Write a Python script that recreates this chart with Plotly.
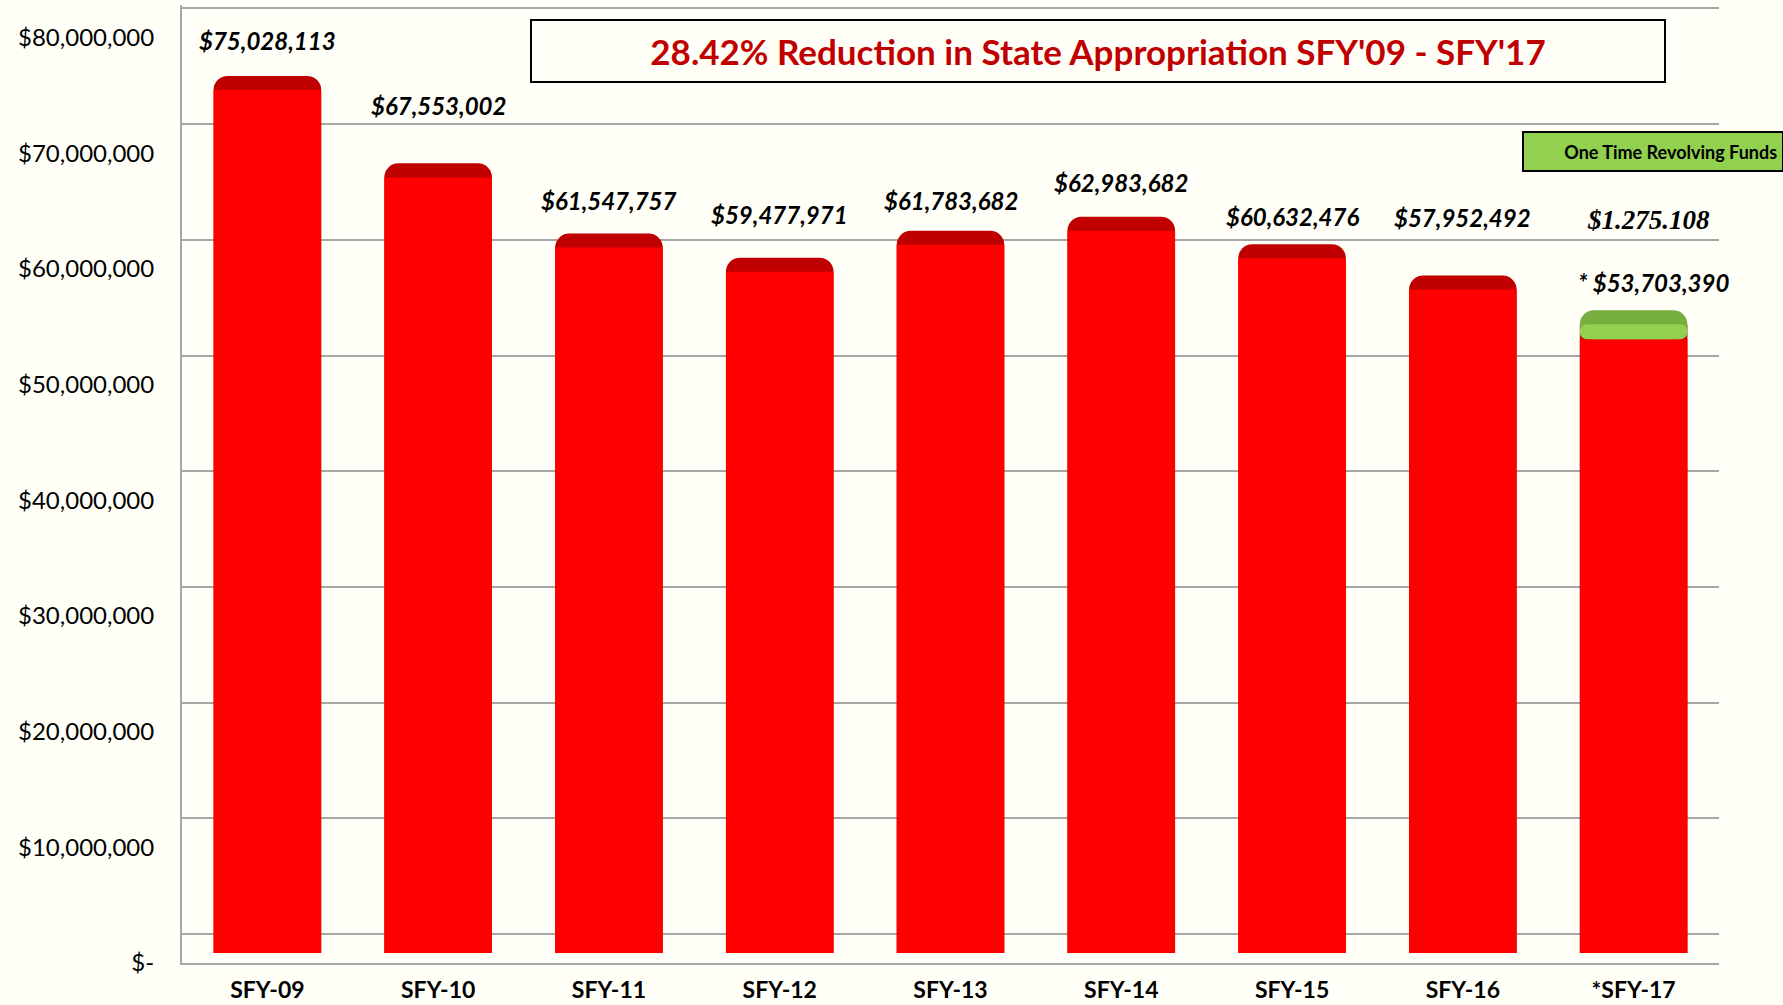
import plotly.graph_objects as go

# data
categories = ["SFY-09", "SFY-10", "SFY-11", "SFY-12", "SFY-13",
              "SFY-14", "SFY-15", "SFY-16", "*SFY-17"]
appropriation = [75028113, 67553002, 61547757, 59477971, 61783682,
                 62983682, 60632476, 57952492, 53703390]
one_time_category = "*SFY-17"
one_time_value = 1275108
y_tickvals = [0, 10000000, 20000000, 30000000, 40000000,
              50000000, 60000000, 70000000, 80000000]
y_ticktext = ["$-", "$10,000,000", "$20,000,000", "$30,000,000", "$40,000,000",
              "$50,000,000", "$60,000,000", "$70,000,000", "$80,000,000"]
title_text = "28.42% Reduction in State Appropriation SFY'09 - SFY'17"
legend_name = "One Time Revolving Funds"

# styling
BG = "#FFFFF7"
RED = "#FF0000"
DARK_RED = "#C00000"
GREEN = "#92D050"
DARK_GREEN = "#77AF3E"
GRID = "#A6A6A6"
CAP = 1.2e6          # depth of the darker top face (3D look), in axis units
label_lift = [35, 58, 33, 43, 30, 34, 28, 58, 28]

fig = go.Figure()

# keeps the gridline/label axis alive (draws nothing)
fig.add_trace(go.Scatter(x=categories, y=appropriation, mode="none",
                         showlegend=False, hoverinfo="skip"))

bar_common = dict(yaxis="y2", marker_cornerradius=14, marker_line_width=0,
                  hoverinfo="skip", showlegend=False)

# top face (dark) then front face (bright) for each bar
fig.add_trace(go.Bar(x=categories, y=appropriation, marker_color=DARK_RED, **bar_common))
fig.add_trace(go.Bar(x=categories, y=[v - CAP for v in appropriation],
                     marker_color=RED, **bar_common))

base17 = appropriation[categories.index(one_time_category)]
fig.add_trace(go.Bar(x=[one_time_category], y=[one_time_value + CAP], base=[base17 - CAP],
                     marker_color=DARK_GREEN, **bar_common))
fig.add_trace(go.Bar(x=[one_time_category], y=[one_time_value], base=[base17 - CAP],
                     marker_color=GREEN, name=legend_name,
                     **dict(bar_common, showlegend=True)))

label_font = dict(family="Lato", size=24, color="black", weight="bold", style="italic")
for i, (cat, val) in enumerate(zip(categories, appropriation)):
    top = val
    text = f"${val:,}"
    xshift = 0
    if cat == one_time_category:
        top = val + one_time_value
        text = "* " + text
        xshift = 20
    fig.add_annotation(x=cat, y=top, xref="x", yref="y2", text=text, showarrow=False,
                       yshift=label_lift[i], xshift=xshift, font=label_font)

# label for the one-time funds
fig.add_annotation(x=one_time_category, y=base17 + one_time_value, xref="x", yref="y2",
                   text=f"${one_time_value:,}".replace(",", "."), showarrow=False,
                   yshift=90, xshift=15,
                   font=dict(family="Liberation Serif", size=27, color="black",
                             weight="bold", style="italic"))

# title box
fig.add_annotation(x=0.596, y=0.952, xref="paper", yref="paper", text=title_text,
                   xanchor="center", yanchor="middle",
                   showarrow=False, width=1128, height=56, bordercolor="black",
                   borderwidth=2, borderpad=2, bgcolor=BG,
                   font=dict(family="Lato", size=35, color="#C00000", weight="bold"))

fig.update_layout(
    width=1783, height=1005,
    paper_bgcolor=BG, plot_bgcolor=BG,
    margin=dict(l=182, r=64, t=5, b=42, autoexpand=False),
    barmode="overlay", bargap=0.37,
    legend=dict(x=0.872, y=0.868, xanchor="left", yanchor="top",
                bgcolor=GREEN, bordercolor="black", borderwidth=2,
                font=dict(family="Lato", size=18, color="black", weight="bold")),
)
fig.update_xaxes(
    anchor="y", range=[-0.5, 8.5],
    showline=True, linecolor=GRID, linewidth=2, showgrid=False,
    ticks="", ticklabelstandoff=5,
    tickfont=dict(family="Lato", size=23, color="black", weight="bold"),
)
fig.update_layout(
    yaxis=dict(anchor="x", range=[-2.5e6, 80.3e6], tickvals=y_tickvals, ticktext=y_ticktext,
               showline=True, linecolor=GRID, linewidth=2,
               showgrid=True, gridcolor=GRID, gridwidth=2, zeroline=False,
               ticks="", ticklabelshift=29, ticklabelstandoff=21,
               tickfont=dict(family="Lato", size=24, color="black")),
    yaxis2=dict(anchor="x", range=[-0.855e6, 81.1e6], overlaying="y", visible=False),
)

fig.write_html("out.html", config={"displayModeBar": False},
               post_script="document.body.style.margin='0';"
                           "document.body.style.background='#FFFFF7';")
